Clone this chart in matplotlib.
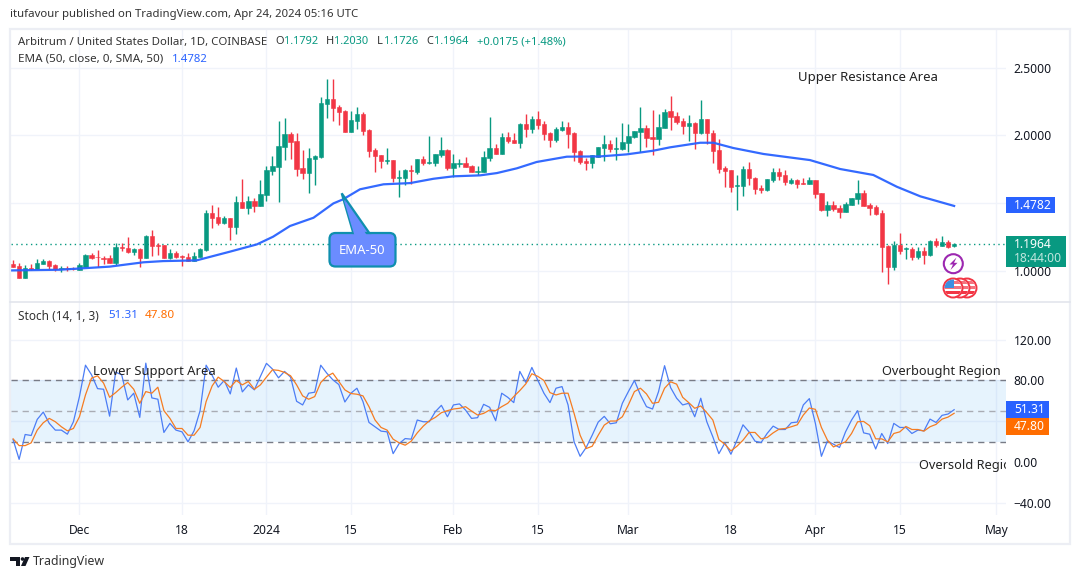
"""ARB/USD daily chart, TradingView look."""
import matplotlib
matplotlib.use("Agg")
import matplotlib.pyplot as plt
from matplotlib.patches import Circle, FancyBboxPatch, Polygon, Rectangle
import numpy as np
import pandas as pd

plt.rcParams["font.family"] = ["Noto Sans", "DejaVu Sans"]

W, H = 1080, 579
GREEN = "#089981"
RED = "#F23645"
BLUE = "#2962FF"
ORANGE = "#FF6D00"
GRID = "#F0F3FA"
TEXT = "#131722"

start_date = "2023-11-20"

opens = [
    1.049, 1.034, 0.948, 1.020, 1.012, 1.052, 1.071, 1.042, 1.010, 1.020,
    1.015, 1.007, 1.030, 1.113, 1.103, 1.094, 1.094, 1.059, 1.175, 1.167,
    1.138, 1.158, 1.094, 1.256, 1.190, 1.187, 1.094, 1.130, 1.106, 1.101,
    1.074, 1.101, 1.153, 1.426, 1.396, 1.352, 1.387, 1.325, 1.505, 1.465,
    1.515, 1.480, 1.561, 1.739, 1.768, 1.913, 2.009, 1.958, 1.758, 1.721,
    1.825, 1.840, 2.231, 2.268, 2.209, 2.179, 2.024, 2.105, 2.157, 2.039,
    1.891, 1.854, 1.812, 1.817, 1.687, 1.684, 1.744, 1.729, 1.825, 1.795,
    1.795, 1.854, 1.891, 1.758, 1.790, 1.795, 1.773, 1.731, 1.729, 1.832,
    1.906, 1.862, 1.987, 1.965, 1.943, 2.083, 2.046, 2.120, 2.083, 2.017,
    1.965, 2.039, 2.061, 2.017, 1.884, 1.810, 1.795, 1.840, 1.906, 1.936,
    1.901, 1.899, 1.943, 1.987, 2.024, 2.054, 1.987, 1.973, 2.054, 2.179,
    2.142, 2.105, 2.069, 2.091, 2.017, 2.120, 2.017, 1.891, 1.758, 1.744,
    1.628, 1.625, 1.751, 1.684, 1.611, 1.596, 1.670, 1.729, 1.707, 1.648,
    1.670, 1.650, 1.643, 1.670, 1.574, 1.448, 1.485, 1.463, 1.433, 1.485,
    1.529, 1.574, 1.485, 1.470, 1.426, 1.182, 1.027, 1.190, 1.160, 1.160,
    1.101, 1.145, 1.116, 1.219, 1.182, 1.212, 1.1792,
]
highs = [
    1.079, 1.054, 1.039, 1.049, 1.084, 1.084, 1.079, 1.049, 1.034, 1.034,
    1.025, 1.054, 1.123, 1.133, 1.153, 1.108, 1.113, 1.204, 1.204, 1.249,
    1.167, 1.165, 1.261, 1.300, 1.207, 1.190, 1.158, 1.143, 1.116, 1.133,
    1.138, 1.170, 1.448, 1.485, 1.470, 1.404, 1.389, 1.551, 1.677, 1.551,
    1.539, 1.670, 1.773, 1.847, 2.105, 2.128, 2.024, 2.017, 1.891, 1.906,
    1.854, 2.283, 2.416, 2.416, 2.224, 2.187, 2.179, 2.209, 2.172, 2.046,
    1.906, 1.854, 1.906, 1.817, 1.744, 1.751, 1.780, 1.825, 1.847, 1.995,
    1.862, 1.987, 1.899, 1.862, 1.825, 1.840, 1.780, 1.773, 1.884, 2.135,
    1.936, 2.017, 2.024, 2.017, 2.091, 2.157, 2.142, 2.179, 2.105, 2.024,
    2.061, 2.105, 2.098, 2.024, 1.891, 1.832, 1.854, 1.913, 2.002, 1.965,
    1.987, 2.091, 2.083, 2.032, 2.209, 2.076, 2.187, 2.157, 2.194, 2.290,
    2.172, 2.128, 2.150, 2.098, 2.261, 2.120, 2.039, 1.973, 1.773, 1.744,
    1.707, 1.773, 1.803, 1.694, 1.633, 1.677, 1.758, 1.758, 1.744, 1.684,
    1.677, 1.684, 1.692, 1.670, 1.574, 1.515, 1.515, 1.485, 1.507, 1.537,
    1.670, 1.596, 1.500, 1.485, 1.448, 1.190, 1.219, 1.278, 1.175, 1.175,
    1.175, 1.175, 1.226, 1.241, 1.256, 1.226, 1.2030,
]
lows = [
    1.025, 0.946, 0.946, 1.005, 1.010, 1.049, 1.015, 1.000, 0.990, 1.000,
    1.005, 1.005, 1.030, 1.089, 1.025, 1.049, 1.054, 1.044, 1.148, 1.133,
    1.118, 1.025, 1.094, 1.108, 1.116, 1.094, 1.086, 1.094, 1.034, 1.069,
    1.071, 1.098, 1.148, 1.318, 1.337, 1.347, 1.226, 1.273, 1.463, 1.421,
    1.433, 1.480, 1.515, 1.707, 1.507, 1.820, 1.825, 1.699, 1.677, 1.574,
    1.633, 1.832, 2.128, 2.105, 2.076, 2.024, 2.024, 2.046, 2.002, 1.840,
    1.729, 1.758, 1.788, 1.655, 1.544, 1.633, 1.640, 1.714, 1.780, 1.788,
    1.773, 1.840, 1.744, 1.692, 1.766, 1.766, 1.729, 1.707, 1.729, 1.810,
    1.862, 1.862, 1.943, 1.943, 1.906, 1.987, 2.017, 2.046, 1.965, 1.913,
    1.950, 2.032, 1.906, 1.810, 1.788, 1.744, 1.758, 1.840, 1.810, 1.876,
    1.817, 1.891, 1.876, 1.980, 1.876, 1.913, 1.854, 1.928, 2.051, 2.039,
    2.083, 2.009, 1.958, 1.899, 2.009, 1.936, 1.795, 1.721, 1.618, 1.581,
    1.448, 1.551, 1.633, 1.566, 1.574, 1.588, 1.655, 1.670, 1.633, 1.640,
    1.611, 1.640, 1.640, 1.537, 1.441, 1.404, 1.441, 1.389, 1.433, 1.485,
    1.492, 1.478, 1.411, 1.411, 0.990, 0.902, 1.005, 1.123, 1.086, 1.079,
    1.086, 1.049, 1.108, 1.175, 1.182, 1.167, 1.1726,
]
closes = [
    1.030, 0.948, 1.020, 1.012, 1.057, 1.071, 1.034, 1.010, 1.020, 1.010,
    1.010, 1.042, 1.116, 1.094, 1.098, 1.089, 1.059, 1.175, 1.165, 1.138,
    1.160, 1.094, 1.256, 1.182, 1.185, 1.094, 1.130, 1.103, 1.101, 1.071,
    1.108, 1.158, 1.426, 1.391, 1.352, 1.389, 1.325, 1.505, 1.465, 1.515,
    1.480, 1.566, 1.744, 1.773, 1.921, 2.009, 1.953, 1.753, 1.721, 1.832,
    1.847, 2.238, 2.268, 2.201, 2.174, 2.024, 2.113, 2.157, 2.032, 1.884,
    1.847, 1.810, 1.817, 1.684, 1.692, 1.744, 1.739, 1.825, 1.795, 1.803,
    1.862, 1.891, 1.758, 1.795, 1.795, 1.766, 1.729, 1.736, 1.840, 1.906,
    1.862, 1.987, 1.958, 1.943, 2.083, 2.046, 2.120, 2.076, 2.009, 1.965,
    2.046, 2.061, 2.009, 1.876, 1.803, 1.795, 1.854, 1.913, 1.936, 1.899,
    1.906, 1.950, 1.995, 2.032, 2.054, 1.980, 1.973, 2.061, 2.172, 2.135,
    2.098, 2.069, 2.091, 2.017, 2.120, 2.017, 1.884, 1.751, 1.736, 1.618,
    1.633, 1.751, 1.684, 1.603, 1.596, 1.677, 1.729, 1.699, 1.655, 1.670,
    1.640, 1.643, 1.670, 1.566, 1.448, 1.485, 1.455, 1.433, 1.492, 1.537,
    1.574, 1.478, 1.463, 1.419, 1.175, 1.027, 1.190, 1.145, 1.165, 1.101,
    1.145, 1.116, 1.219, 1.190, 1.212, 1.175, 1.1964,
]

# EMA 50, read at the bends of the curve (day number since start_date)
ema_days = [
    -0.4, 7.7, 16, 21.6, 24.9, 30.4, 35.9, 40.4, 43.1, 45.9, 49.8, 53.1, 54.7,
    57.5, 61.4, 65.8, 69.7, 73, 77.4, 80.2, 83.5, 86.8, 91.8, 97.3, 101.7,
    106.1, 108.9, 113.9, 116.1, 119.4, 124.4, 132.1, 137.1, 142.6, 146.5,
    150.4, 156,
]
ema_values = [
    1.002, 1.007, 1.030, 1.062, 1.071, 1.076, 1.140, 1.194, 1.251, 1.330, 1.391,
    1.497, 1.527, 1.601, 1.638, 1.647, 1.679, 1.697, 1.704, 1.721, 1.756, 1.803,
    1.842, 1.844, 1.859, 1.886, 1.911, 1.945, 1.945, 1.906, 1.862, 1.817, 1.751,
    1.707, 1.620, 1.549, 1.4782,
]

stoch_k = [
    22, 2.6, 27, 26, 41.8, 49, 37.9, 31.3, 31.3, 27.3,
    39.5, 64.2, 95, 85.6, 72, 71.4, 45, 88.2, 85.6, 60.9,
    67.5, 43.8, 97, 62.9, 61.6, 29, 37.9, 31.3, 29.6, 19.8,
    30.6, 50.4, 95, 85, 73.4, 80, 66.8, 92.2, 68.8, 75.7,
    70.8, 84, 96.8, 91.2, 82.6, 88.9, 83.3, 59.6, 56, 67.5,
    68.5, 95, 87.2, 80.7, 76, 58.9, 67.5, 72.4, 59.3, 38.8,
    34.6, 30.3, 29.6, 8.2, 18.1, 23, 22.4, 41.2, 39.5, 39.5,
    49.4, 55.6, 44.4, 56, 57, 51, 42.8, 43.5, 56.6, 53.7,
    40.5, 67.5, 63.5, 58.3, 88.9, 78, 92.8, 80, 67.5, 58.3,
    72.4, 74, 56, 19.8, 5.6, 14.2, 26.3, 39.2, 44.8, 37.5,
    38.5, 57.6, 69.1, 80, 65.8, 54.3, 52, 69.1, 94.5, 73,
    62.6, 56, 57.6, 44.4, 62.6, 39.5, 24.7, 8.2, 18.8, 7.6,
    21.4, 36.5, 29.6, 20.4, 19.1, 28, 35.2, 31.9, 31.9, 38.5,
    39.2, 56, 62.2, 37.9, 5.6, 20.7, 17.4, 14.2, 29.6, 41.2,
    50.4, 28.6, 27.3, 12.8, 28, 18.1, 37.9, 33.9, 33.9, 28,
    31.3, 30.6, 42.1, 38.8, 45.8, 47.1, 51.31,
]
stoch_d = [
    22.7, 16.1, 16.1, 18.8, 31.3, 38.5, 42.8, 39.5, 34.6, 30.6,
    32.9, 44.4, 65.8, 82.3, 84.6, 77.4, 63.5, 68.1, 73.4, 78,
    71.4, 57.6, 69.1, 67.5, 73.4, 50.4, 42.8, 32.9, 32.9, 26.3,
    26.3, 33.9, 59.3, 74.7, 83.3, 79, 73.1, 80, 75.7, 79,
    71.4, 75.7, 83.3, 90.5, 89.9, 87.9, 84.6, 75.7, 64.9, 61.6,
    64.2, 78, 84, 87.2, 79, 70.8, 67.2, 66.5, 64.9, 54.3,
    41.2, 33.9, 31.3, 22.4, 18.8, 16.5, 20.4, 28.6, 35.2, 40.5,
    43.8, 48.4, 50.4, 52, 52.7, 54.3, 50, 46.1, 47.7, 51,
    50.4, 54.3, 57.6, 64.2, 70.1, 76.7, 86.6, 84, 80, 68.1,
    65.8, 67.5, 67.5, 47.7, 26.3, 13.2, 15.5, 26.3, 36.2, 40.2,
    40.2, 44.4, 56, 69.1, 72.4, 66.8, 57.6, 58.6, 72.4, 78.7,
    76.4, 63.5, 58.3, 52.7, 55, 48.4, 41.2, 22, 17.4, 10.9,
    15.5, 21.4, 29, 29, 22.7, 24, 28.6, 32.3, 32.9, 34.6,
    36.5, 46.1, 53, 51.7, 33.9, 21.4, 14.8, 17.4, 19.8, 28,
    39.5, 39.8, 35.6, 22.7, 22.7, 19.8, 28, 29.6, 34.9, 31.9,
    31.9, 30.3, 34.6, 36.9, 42.1, 44.1, 47.8,
]

tick_dates = ["2023-12-01", "2023-12-18", "2024-01-01", "2024-01-15", "2024-02-01",
              "2024-02-15", "2024-03-01", "2024-03-18", "2024-04-01", "2024-04-15",
              "2024-05-01"]
tick_labels = ["Dec", "18", "2024", "15", "Feb", "15", "Mar", "18", "Apr", "15", "May"]
price_ticks = [1.0, 1.5, 2.0, 2.5]
price_labels = ["1.0000", "", "2.0000", "2.5000"]  # 1.5000 is hidden by the EMA tag
stoch_ticks = [-40, 0, 40, 80, 120]
stoch_labels = ["\u221240.00", "0.00", "", "80.00", "120.00"]


def px_axes(fig, left, top, right, bottom):
    return fig.add_axes((left / W, 1 - bottom / H, (right - left) / W, (bottom - top) / H))


days = np.arange(len(opens))
tick_days = [(pd.Timestamp(d) - pd.Timestamp(start_date)).days for d in tick_dates]
xlim = (-0.43, 164.6)

fig = plt.figure(figsize=(W / 100, H / 100), dpi=100, facecolor="white")
ax = px_axes(fig, 10.5, 29, 1006, 301.5)
ax2 = px_axes(fig, 10.5, 301.5, 1006, 515)

for a in (ax, ax2):
    a.set_xlim(*xlim)
    a.set_xticks(tick_days)
    a.grid(True, color=GRID, lw=1)
    a.set_axisbelow(True)
    a.yaxis.tick_right()
    a.tick_params(axis="both", length=0, labelsize=8.7, labelcolor=TEXT)
    a.tick_params(axis="y", pad=5.6)
    for s in a.spines.values():
        s.set_visible(False)

# price pane
ax.set_ylim(0.7725, 2.785)
ax.set_yticks(price_ticks, price_labels)
ax.tick_params(axis="x", labelbottom=False)
colors = [GREEN if c >= o else RED for o, c in zip(opens, closes)]
ax.vlines(days, lows, highs, colors=colors, lw=1, zorder=3)
body_low = np.minimum(opens, closes)
body_h = np.abs(np.array(closes) - np.array(opens))
ax.bar(days, body_h, bottom=body_low, width=0.72, color=colors, edgecolor=colors,
       lw=0.4, zorder=4)
ax.plot(ema_days, ema_values, color=BLUE, lw=1.6, zorder=5, alpha=0.95)
ax.axhline(closes[-1], color=GREEN, lw=1, ls=(0, (1, 2.5)), zorder=2)

# stochastic pane
ax2.set_ylim(-52, 157.5)
ax2.set_yticks(stoch_ticks, stoch_labels)
ax2.set_xticks(tick_days, tick_labels)
ax2.tick_params(axis="x", pad=6.5)
for lab in ax2.get_xticklabels():
    if lab.get_text() == "2024":
        lab.set_fontweight("semibold")
ax2.axhspan(20, 80, color="#2196F3", alpha=0.11, lw=0, zorder=1)
for level, col in ((80, "#787B86"), (50, "#A9ACB4"), (20, "#787B86")):
    ax2.axhline(level, color=col, lw=1, ls=(0, (4.5, 3.5)), zorder=2)
ax2.plot(days, stoch_k, color="#4C7DF5", lw=0.9, zorder=3)
ax2.plot(days, stoch_d, color="#F57C22", lw=0.9, zorder=4)

# overlay in pixel coordinates for frame, tags, notes
ov = fig.add_axes((0, 0, 1, 1), facecolor="none")
ov.set_xlim(0, W)
ov.set_ylim(H, 0)
ov.axis("off")

ov.add_patch(Rectangle((10, 28.5), 1060, 515, fill=False, ec="#ECEEF4", lw=1.6))
ov.plot([10, 1070], [301.5, 301.5], color="#E0E3EB", lw=1.1)


def note(x, y, text, color=TEXT, size=8.9, ha="left", axes=ov, **kw):
    return axes.text(x, y, text, color=color, fontsize=size, ha=ha, va="center",
                     transform=ov.transData, **kw)


note(10, 15, "itufavour published on TradingView.com, Apr 24, 2024 05:16 UTC", "#333333", 8.2)
note(18, 42, "Arbitrum / United States Dollar, 1D, COINBASE", "#333333", 8.2)
for x, s in ((275.5, "O"), (326, "H"), (377, "L"), (426, "C")):
    note(x, 42, s, "#333333", 7.95)
for x, s in ((284, "1.1792"), (334, "1.2030"), (384, "1.1726"), (433.6, "1.1964")):
    note(x, 42, s, GREEN, 7.95)
note(477, 42, "+0.0175 (+1.48%)", GREEN, 8.1)
note(18, 59, "EMA (50, close, 0, SMA, 50)", "#333333", 8.4)
note(172, 59, "1.4782", BLUE, 8.2)
note(18, 316, "Stoch (14, 1, 3)", "#333333", 8.5)
note(108.7, 316, "51.31", BLUE, 8.4)
note(145, 316, "47.80", ORANGE, 8.4)

note(798, 77, "Upper Resistance Area", "#222222", 9.5)
note(93, 371, "Lower Support Area", "#222222", 9.4, zorder=6)
note(882, 371, "Overbought Region", "#222222", 9.2)
note(919, 465, "Oversold Region", "#222222", 9.2, axes=ax2, clip_on=True, zorder=6)

# price tags
ov.add_patch(Rectangle((1006, 197.3), 49, 16, fc=BLUE, ec="none"))
note(1014, 205.3, "1.4782", "white", 8.7)
ov.add_patch(Rectangle((1006, 236), 60, 30.7, fc=GREEN, ec="none"))
note(1014, 244.5, "1.1964", "white", 8.7)
note(1014, 258.5, "18:44:00", "#BFE6DE", 8.7)
ov.add_patch(Rectangle((1006, 401.3), 43, 17, fc=BLUE, ec="none"))
note(1014, 409.8, "51.31", "white", 8.7)
ov.add_patch(Rectangle((1006, 418.3), 43, 16.7, fc=ORANGE, ec="none"))
note(1014, 426.6, "47.80", "white", 8.7)

# EMA-50 callout
bubble = "#6B8CFF"
edge = "#0F8FAE"
ov.add_patch(FancyBboxPatch((333, 236.5), 59, 26.5, boxstyle="round,pad=3.5,rounding_size=6",
                            fc=bubble, ec=edge, lw=1.6, zorder=7))
ov.add_patch(Polygon([(341.7, 193.3), (353.3, 233), (369.3, 233)], closed=True,
                     fc=bubble, ec=edge, lw=1.6, zorder=7))
ov.add_patch(Polygon([(343.5, 199), (354.5, 235.5), (367, 235.5)], closed=True,
                     fc=bubble, ec="none", zorder=8))
note(362, 250, "EMA-50", "white", 9.4, ha="center", zorder=9)

# event markers under the last candles
ov.add_patch(Circle((953.3, 263.7), 9.5, fc="white", ec="#9C27B0", lw=1.5, zorder=7))
ov.add_patch(Polygon([(956.5, 257.5), (949.5, 264.5), (953, 264.5), (950.5, 270),
                      (957.5, 262.8), (954, 262.8)], closed=True, fc="#9C27B0", ec="none", zorder=8))
for k, cx in enumerate((967, 960, 953)):
    base = 10 + 3 * k
    ov.add_patch(Circle((cx, 288), 9.5, fc="white", ec=RED, lw=1.4, zorder=base))
    disc = Circle((cx, 288), 8.5, transform=ov.transData)
    for y0 in (281, 286, 291):
        bar = Rectangle((cx - 10, y0), 20, 2.6, fc="#F4737F" if y0 != 291 else RED, ec="none",
                        zorder=base + 1)
        ov.add_patch(bar)
        bar.set_clip_path(disc)
    if cx == 953:
        canton = Rectangle((cx - 10, 279), 10.5, 8.5, fc="#3D8FE0", ec="none", zorder=base + 2)
        ov.add_patch(canton)
        canton.set_clip_path(disc)

# logo and brand
ov.add_patch(Polygon([(10, 557), (20, 557), (20, 566), (15.5, 566), (15.5, 560.5), (10, 560.5)],
                     closed=True, fc=TEXT, ec="none"))
ov.add_patch(Circle((22.5, 559), 1.8, fc=TEXT, ec="none"))
ov.add_patch(Polygon([(25, 557), (29.5, 557), (25.5, 566), (21, 566)], closed=True, fc=TEXT, ec="none"))
note(33, 561.5, "TradingView", "#333333", 8.9)

fig.savefig("out.png", dpi=100)
